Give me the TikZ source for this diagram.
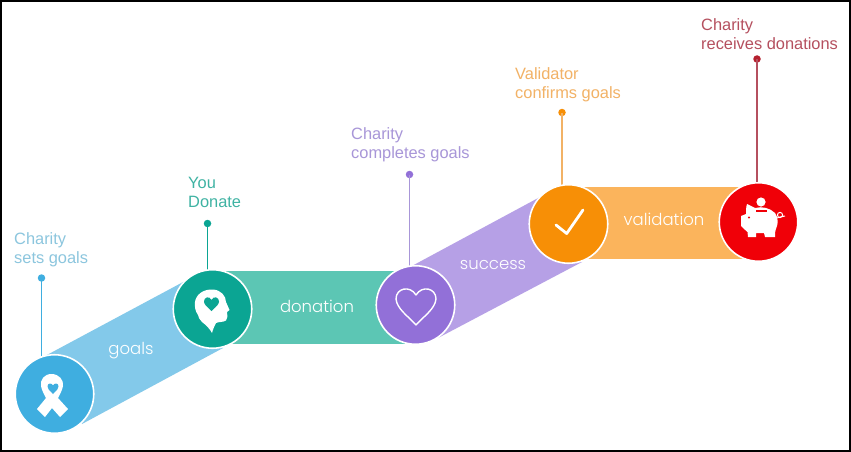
\documentclass[tikz,border=0pt]{standalone}
\usepackage{fontspec}
\setmainfont{Liberation Sans}
\newfontfamily\bandfont{Poppins Light}
\definecolor{cA}{HTML}{3FAEE0}\definecolor{bA}{HTML}{83C9EA}\definecolor{tA}{HTML}{8CC6DE}
\definecolor{cB}{HTML}{0BA593}\definecolor{bB}{HTML}{5CC6B4}\definecolor{tB}{HTML}{3FB3A3}
\definecolor{cC}{HTML}{9270D8}\definecolor{bC}{HTML}{B6A0E6}\definecolor{tC}{HTML}{A896D8}
\definecolor{cD}{HTML}{F78F06}\definecolor{bD}{HTML}{FBB45C}\definecolor{tD}{HTML}{F2B266}
\definecolor{cE}{HTML}{F00008}\definecolor{tE}{HTML}{B5505F}\definecolor{dE}{HTML}{B5202E}
\tikzset{
 disc/.style={circle,draw=white,line width=1.6pt,minimum size=78.5pt,inner sep=0pt},
 lbl/.style={font=\fontsize{16.4}{19}\selectfont,align=left,anchor=north west,inner sep=0pt},
 bandlbl/.style={font=\bandfont\fontsize{16.5}{18}\selectfont,text=white,inner sep=0pt},
 dotc/.style={circle,minimum size=7.5pt,inner sep=0pt},
 leader/.style={line width=1.5pt},
 ico/.style={fill=white,draw=none}
}
\begin{document}
\begin{tikzpicture}[x=1pt,y=-1pt]
\useasboundingbox (0,0) rectangle (851,452);
\fill[white] (0,0) rectangle (851,452);
% bands
\fill[bA] (45,356) -- (185,281) -- (223,348) -- (82,424) -- cycle;
\fill[bB] (212,271) -- (405,271) -- (405,344) -- (212,344) -- cycle;
\fill[bC] (410,267) -- (540,197) -- (582,262) -- (438,338) -- cycle;
\fill[bD] (568,187) -- (745,187) -- (745,259) -- (568,259) -- cycle;
% leaders
\node[dotc,fill=cA] (d1) at (41.5,278) {};
\node[dotc,fill=cB] (d2) at (207.5,223.5) {};
\node[dotc,fill=cC] (d3) at (409.5,174.5) {};
\node[dotc,fill=cD] (d4) at (562,112.5) {};
\node[dotc,fill=dE] (d5) at (757,59) {};
\draw[cA,leader] (d1.center) -- (41.5,358);
\draw[cB,leader] (d2.center) -- (207.5,272);
\draw[tC,leader] (d3.center) -- (409.5,268);
\draw[tD,leader] (d4.center) -- (562,187);
\draw[tE,leader] (d5.center) -- (757,185);
% discs
\node[disc,fill=cA] (n1) at (54.5,394) {};
\node[disc,fill=cB] (n2) at (212.5,309) {};
\node[disc,fill=cC] (n3) at (415.5,305) {};
\node[disc,fill=cD] (n4) at (568.5,224) {};
\node[disc,fill=cE] (n5) at (758.5,222) {};
% labels
\node[lbl,text=tA] (l1) at (14,232) {Charity\\sets goals};
\node[lbl,text=tB] (l2) at (188,177) {You\\Donate};
\node[lbl,text=tC] (l3) at (351,127) {Charity\\completes goals};
\node[lbl,text=tD] (l4) at (515,67) {Validator\\confirms goals};
\node[lbl,text=tE] (l5) at (701,18) {Charity\\receives donations};
\node[bandlbl] (b1) at (131,351) {goals};
\node[bandlbl] (b2) at (317,306) {donation};
\node[bandlbl] (b3) at (493,265) {success};
\node[bandlbl] (b4) at (664,219) {validation};
% ribbon icon
\fill[ico] (51.5,374)
  .. controls (44,374) and (40,380) .. (41,386)
  .. controls (42,391) and (44,394) .. (46,398)
  -- (37,409) -- (45,417) -- (52,408) -- (60,417) -- (68,409) -- (58,398)
  .. controls (60,394) and (62,391) .. (63,386)
  .. controls (64,380) and (59,374) .. (51.5,374) -- cycle;
\fill[cA] (53,394) .. controls (49,390) and (47.5,388.5) .. (47.5,386.5)
  .. controls (47.5,383) and (51.5,382.5) .. (53,385.5)
  .. controls (54.5,382.5) and (58.5,383) .. (58.5,386.5)
  .. controls (58.5,388.5) and (57,390) .. (53,394) -- cycle;
% head icon
\fill[ico] (212,333)
  .. controls (210,329) and (206,325) .. (202,322)
  .. controls (200,319) and (198,318) .. (198,315)
  .. controls (195,311) and (194.5,306) .. (195,302)
  .. controls (196,294) and (204,289) .. (213,289.5)
  .. controls (221,290) and (226,296) .. (226,302)
  -- (229.5,310) -- (227,312) .. controls (227.5,316) and (227.5,319) .. (226,320.5)
  .. controls (223,322.5) and (219,321.5) .. (216,323)
  .. controls (214.5,326) and (213,329) .. (212,333) -- cycle;
\fill[cB] (211.5,311) .. controls (206,306) and (204,304) .. (204,301.5)
  .. controls (204,297) and (209.5,295.5) .. (211.5,300)
  .. controls (213.5,295.5) and (219,297) .. (219,301.5)
  .. controls (219,304) and (217,306) .. (211.5,311) -- cycle;
% heart outline
\draw[white,line width=1.4pt,line join=round] (416,325)
  .. controls (408,316) and (397,309) .. (396,299)
  .. controls (396,288) and (410,285) .. (416,295)
  .. controls (422,285) and (436,288) .. (436,299)
  .. controls (435,309) and (424,316) .. (416,325) -- cycle;
% check
\draw[white,line width=2.8pt,line cap=round,line join=round] (556,225) -- (566.7,233.5) -- (583,210);
% pig
\fill[ico] (747,204) -- (755,208)
  .. controls (762,206) and (770,208) .. (775,213)
  .. controls (778,217) and (778,223) .. (777,226)
  .. controls (776,229) and (775,231) .. (775,233)
  -- (775,237) -- (765,237) -- (764,233) -- (756,233) -- (756,237) -- (748,237) -- (747.5,232)
  .. controls (745,230) and (743,228) .. (741,226)
  -- (741,216) -- (746,214) .. controls (746,211) and (746,207) .. (747,204) -- cycle;
\fill[ico] (761,202) circle (4.6pt);
\fill[cE] (756,210.3) rectangle (767,211.8);
\fill[cE] (749,217.5) circle (1.2pt);
\draw[white,line width=1pt] (777,218) -- (780,217) -- (785,216) (780,215) circle (2.6pt);
% frame
\draw[black,line width=3.5pt] (0,0) rectangle (851,452);
\end{tikzpicture}
\end{document}
